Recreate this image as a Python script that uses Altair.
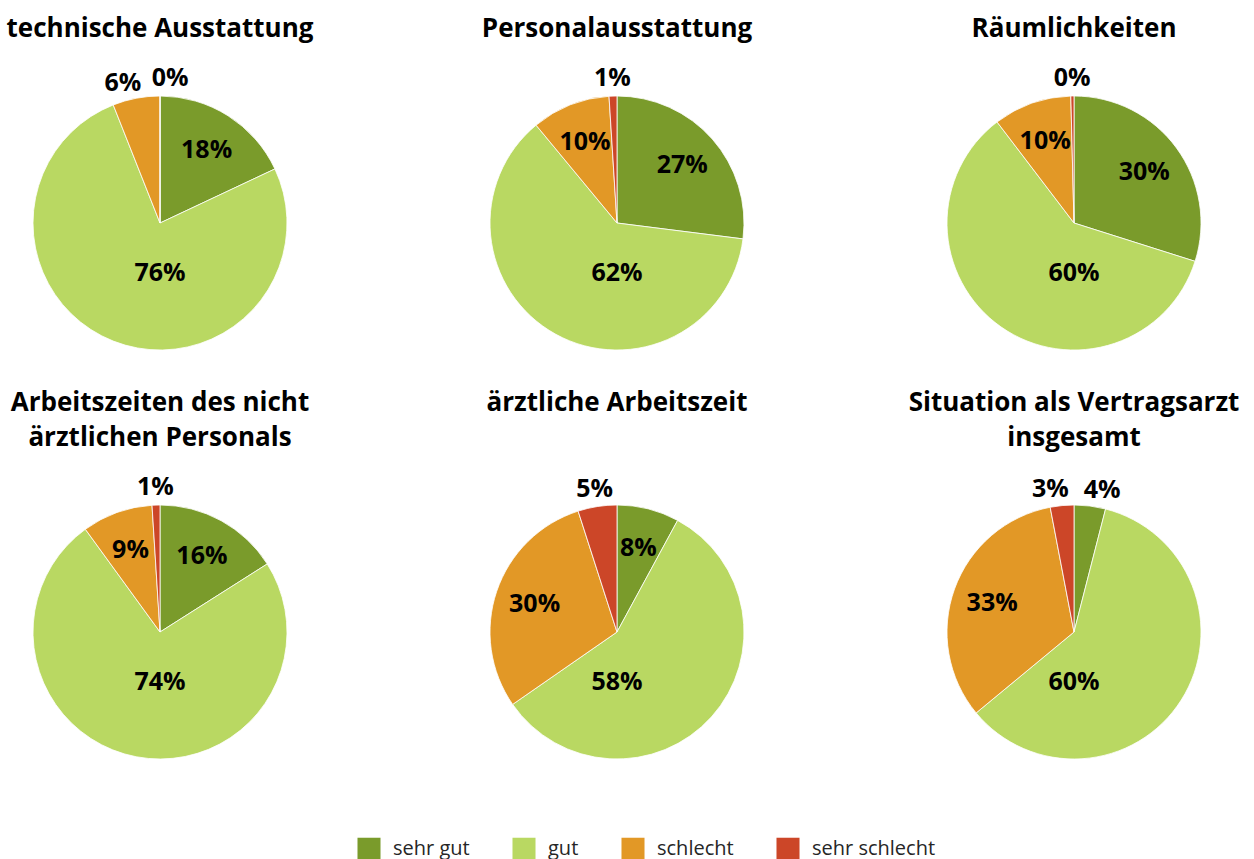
import altair as alt
import pandas as pd

categories = ["sehr gut", "gut", "schlecht", "sehr schlecht"]
colors = ["#7a9b2b", "#b9d862", "#e29826", "#cc4628"]
titles = [
    ["technische Ausstattung"],
    ["Personalausstattung"],
    ["Räumlichkeiten"],
    ["Arbeitszeiten des nicht", "ärztlichen Personals"],
    ["ärztliche Arbeitszeit", " "],
    ["Situation als Vertragsarzt", "insgesamt"],
]
sehr_gut = [18, 27, 30, 16, 8, 4]
gut = [76, 62, 60, 74, 58, 60]
schlecht = [6, 10, 10, 9, 30, 33]
sehr_schlecht = [0, 1, 0.4, 1, 5, 3]

series = [sehr_gut, gut, schlecht, sehr_schlecht]
rows = []
for i, t in enumerate(titles):
    for j, cat in enumerate(categories):
        rows.append({"panel": i, "cat": cat, "order": j, "value": series[j][i]})
df = pd.DataFrame(rows)

FONT = "Open Sans"
color = alt.Color(
    "cat:N",
    scale=alt.Scale(domain=categories, range=colors),
    sort=categories,
    legend=alt.Legend(
        title=None, orient="none", direction="horizontal",
        legendX=357, legendY=779, symbolType="square", symbolSize=530,
        symbolStrokeWidth=0, labelFontSize=20, labelFont=FONT,
        labelColor="#262626", columnPadding=42, labelOffset=12,
        labelExpr="datum.label == 'gut' ? 'gut\u00a0\u00a0\u00a0\u00a0\u00a0' : datum.label",
    ),
)


def panel(i):
    base = alt.Chart(df).transform_filter(alt.datum.panel == i)
    arc = base.mark_arc(radius=127, stroke="white", strokeWidth=0.8).encode(
        theta=alt.Theta("value:Q", stack=True),
        color=color,
        order=alt.Order("order:Q"),
    )
    text = (
        base.transform_window(
            cum="sum(value)", sort=[alt.SortField("order")], frame=[None, 0]
        )
        .transform_window(
            prevv="lag(value)", nextv="lead(value)",
            sort=[alt.SortField("order")],
        )
        .transform_calculate(
            f0="datum.order == 0 ? datum.value : -1",
            f3="datum.order == 3 ? datum.value : -1",
        )
        .transform_joinaggregate(
            total="sum(value)", maxv="max(value)", v0="max(f0)", v3="max(f3)"
        )
        .transform_calculate(
            mid="(datum.cum - datum.value/2)/datum.total*2*PI",
            pv="datum.order == 0 ? datum.v3 : datum.prevv",
            nv="datum.order == 3 ? datum.v0 : datum.nextv",
        )
        .transform_calculate(
            m2="datum.mid > 2*PI - 0.02 ? datum.mid - 2*PI : datum.mid",
            crowd="datum.value < 7 && (datum.pv < 7 || datum.nv < 7) ? 0.07 : 0",
            lbl="format(datum.value, '.0f') + '%'",
        )
        .transform_calculate(
            lt="datum.value == datum.maxv ? PI : (datum.value < 7 ? (datum.m2 > PI ? datum.m2 - datum.crowd : datum.m2 + datum.crowd) : datum.m2)",
            lr="datum.value == datum.maxv ? 50 : (datum.value < 7 ? 145 : 87)",
        )
        .mark_text(font=FONT, fontWeight="bold", fontSize=25, color="black")
        .encode(
            theta=alt.Theta("lt:Q", scale=None, stack=False),
            radius=alt.Radius("lr:Q", scale=None),
            text="lbl:N",
        )
    )
    return alt.layer(arc, text).properties(
        width=320,
        height=330,
        title=alt.TitleParams(
            text=titles[i], font=FONT, fontSize=26, fontWeight="bold",
            color="black", lineHeight=35, offset=16, anchor="middle",
            frame="group",
        ),
    )


row1 = alt.hconcat(panel(0), panel(1), panel(2), spacing=137, bounds="flush")
row2 = alt.hconcat(panel(3), panel(4), panel(5), spacing=137, bounds="flush")
chart = (
    alt.vconcat(row1, row2, spacing=2)
    .properties(padding={"left": 0, "top": 16, "right": 0, "bottom": 0})
    .configure_view(stroke=None)
    .configure(font=FONT)
)

chart.save("out.html", embed_options={"renderer": "svg", "actions": False})
